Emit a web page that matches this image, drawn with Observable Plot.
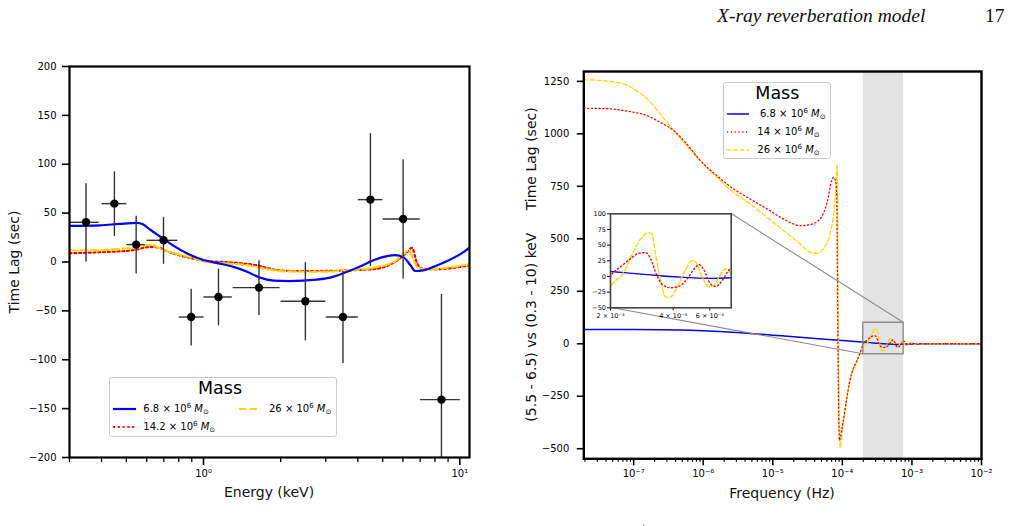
<!DOCTYPE html>
<html>
<head>
<meta charset="utf-8">
<script src="https://cdn.jsdelivr.net/npm/d3@7"></script>
<script src="https://cdn.jsdelivr.net/npm/@observablehq/plot@0.6"></script>
<style>
  body { margin: 0; background: #fff; }
  #page { position: relative; width: 1012px; height: 526px; overflow: hidden; font-family: "DejaVu Sans", sans-serif; color: #000; }
  #page > * { position: absolute; }
  .legend { border: 1px solid #cccccc; border-radius: 3px; background: rgba(255,255,255,0.8); box-sizing: border-box; }
  .ltitle { font-size: 17.5px; line-height: 20px; white-space: nowrap; }
  .ltext { font-size: 10px; line-height: 12px; white-space: nowrap; }
  .ltext sup { font-size: 7px; line-height: 0; vertical-align: 4px; }
  .ltext sub { font-size: 7px; line-height: 0; vertical-align: -2px; }
</style>
</head>
<body>
<div id="page"></div>
<script>
// ---------- Left panel: lag-energy spectrum ----------
const energyDomain = [0.3, 10.91];
const lagDomainLeft = [-200, 200];
const lagTicksLeft = [-200, -150, -100, -50, 0, 50, 100, 150, 200];
const energyMajor = [1, 10];
const energyMajorLabels = ["10⁰", "10¹"];
const energyMinor = [0.3, 0.4, 0.5, 0.6, 0.7, 0.8, 0.9, 2, 3, 4, 5, 6, 7, 8, 9];

// measured lags per energy bin
const binEnergy = [0.348, 0.449, 0.546, 0.698, 0.895, 1.144, 1.646, 2.497, 3.50, 4.48, 6.01, 8.48];
const binLow    = [0.30, 0.40, 0.50, 0.60, 0.80, 1.00, 1.30, 2.00, 3.00, 4.00, 5.00, 7.00];
const binHigh   = [0.39, 0.50, 0.59, 0.79, 1.00, 1.29, 1.98, 2.99, 4.00, 4.99, 6.98, 10.0];
const binLag    = [40.6, 59.7, 17.8, 22.2, -56.3, -35.8, -26.2, -40.2, -56.3, 63.8, 44.0, -140.8];
const binLagErr = [40, 33, 29.5, 24, 29, 29, 28, 40, 47, 68, 61, 108];

// model lag-energy curves for each black-hole mass
const blueEnergy = [0.3, 0.395, 0.47, 0.55, 0.58, 0.62, 0.66, 0.70, 0.76, 0.86, 1.0, 1.16, 1.31, 1.48, 1.66, 1.88, 2.15, 2.77, 3.22, 3.63, 4.1, 4.6, 5.2, 5.6, 6.05, 6.42, 6.7, 7.2, 7.9, 8.93, 10.05, 10.91];
const blueLag    = [37, 37.5, 39, 40, 38.5, 33, 28, 23.5, 17, 9, 2, -1.6, -5, -10, -16, -19, -19.5, -18, -15, -10, -4.4, 1.7, 6, 7, 4.5, -3.4, -9.2, -8.5, -5, 1, 8, 14.7];
const redEnergy  = [0.3, 0.395, 0.53, 0.62, 0.67, 0.72, 0.86, 1.03, 1.31, 1.62, 1.88, 2.2, 2.77, 3.74, 4.76, 5.7, 6.22, 6.5, 6.82, 7.1, 7.9, 10.91];
const redLag     = [9, 10, 12, 15.4, 14.7, 11, 5, 1, -0.6, -3.4, -7.8, -9.2, -9.2, -8.5, -6.8, 1.7, 10, 14.5, -1.6, -6.8, -7.5, -3.4];
const goldEnergy = [0.3, 0.395, 0.47, 0.55, 0.62, 0.68, 0.76, 0.89, 1.03, 1.25, 1.48, 1.72, 2.05, 2.77, 3.74, 4.76, 5.53, 5.96, 6.33, 6.6, 6.9, 7.47, 8.93, 10.91];
const goldLag    = [12, 12, 13.5, 15, 17.8, 13.7, 9.2, 5, 0, -1.7, -3.4, -6.8, -9.5, -10, -8.5, -5, 0, 7, 12, 1.7, -6.8, -7.8, -5.8, -2.4];

// ---------- Right panel: lag-frequency spectrum ----------
const freqDomain = [1.92e-8, 1e-2];
const lagDomainRight = [-548, 1297];
const lagTicksRight = [-500, -250, 0, 250, 500, 750, 1000, 1250];
const freqMajor = [1e-7, 1e-6, 1e-5, 1e-4, 1e-3, 1e-2];
const freqMajorLabels = ["10⁻⁷", "10⁻⁶", "10⁻⁵", "10⁻⁴", "10⁻³", "10⁻²"];

const blueFreq = [1.92e-8, 1e-7, 2.5e-7, 5e-7, 1e-6, 3e-6, 1e-5, 3e-5, 1e-4, 2e-4, 3e-4, 4.3e-4, 6.3e-4, 7.6e-4, 1e-3, 2e-3, 1e-2];
const blueFreqLag = [68, 68, 67, 65, 62, 54, 41, 29, 15, 8, 3, -1, -3, -2, -1, 0, 0];

const redFreq = [1.92e-8, 4.6e-8, 7.2e-8, 1e-7, 1.56e-7, 2.4e-7, 3.75e-7, 5.8e-7, 9.06e-7, 1.57e-6, 2.72e-6, 4.7e-6, 8.2e-6, 1.42e-5, 2.47e-5, 3.44e-5, 4.79e-5, 5.97e-5, 7.05e-5, 7.43e-5, 8.0e-5, 8.31e-5, 8.5e-5, 8.75e-5, 9.06e-5, 1.0e-4, 1.15e-4, 1.29e-4, 1.43e-4, 1.6e-4, 1.79e-4,
  2.0e-4, 2.23e-4, 2.49e-4, 2.74e-4, 2.95e-4, 3.12e-4, 3.29e-4, 3.53e-4, 3.88e-4, 4.25e-4, 4.67e-4, 5.13e-4, 5.32e-4, 5.63e-4, 6.05e-4, 6.4e-4, 6.9e-4, 7.4e-4, 7.6e-4,
  8.0e-4, 8.5e-4, 9.0e-4, 9.5e-4, 1.0e-3, 1.1e-3, 1.2e-3, 1.35e-3, 1.6e-3, 2e-3, 1e-2];
const redFreqLag = [1122, 1119, 1111, 1103, 1087, 1055, 1016, 952, 873, 801, 738, 690, 643, 595, 563, 568, 595, 667, 778, 793, 775, 700, 300, -200, -460, -390, -265, -170, -120, -85, -45,
  0, 15, 28, 37, 38, 28, 7, -12, -18, -16, -4, 15, 19, 10, -12, -16, -6, 10, 13,
  8, -4, -5, 2, 4, -1, -2, 1, 0, 0, 0];

const goldFreq = [1.92e-8, 4.6e-8, 7.2e-8, 1e-7, 1.56e-7, 2.4e-7, 3.75e-7, 5.8e-7, 9.06e-7, 1.57e-6, 2.72e-6, 4.7e-6, 8.2e-6, 1.42e-5, 2.46e-5, 3.43e-5, 4.28e-5, 5.32e-5, 6.64e-5, 7.4e-5, 8.09e-5, 8.45e-5, 8.7e-5, 8.95e-5, 9.27e-5, 1.03e-4, 1.15e-4, 1.29e-4, 1.43e-4, 1.6e-4, 1.79e-4,
  2.0e-4, 2.32e-4, 2.59e-4, 2.84e-4, 3.05e-4, 3.16e-4, 3.29e-4, 3.48e-4, 3.68e-4, 3.88e-4, 4.18e-4, 4.58e-4, 4.94e-4, 5.13e-4, 5.52e-4, 5.94e-4, 6.28e-4, 6.65e-4, 7.0e-4, 7.3e-4, 7.6e-4,
  8.0e-4, 8.5e-4, 9.0e-4, 9.5e-4, 1.0e-3, 1.1e-3, 1.2e-3, 1.35e-3, 1.6e-3, 2e-3, 1e-2];
const goldFreqLag = [1258, 1250, 1238, 1214, 1167, 1095, 1016, 944, 873, 793, 722, 667, 603, 540, 476, 436, 431, 452, 524, 603, 746, 854, 200, -300, -495, -381, -270, -175, -124, -88, -50,
  -16, 7, 41, 63, 70, 68, 36, -6, -33, -33, -17, 10, 25.5, 23, -1, -17, -14, -1, 11, 12, 1.6,
  -6, -7, 0, 5, 3, -3, 1, -1, 0, 0, 0];

// zoomed window shown in the inset
const zoomBand = [2e-4, 7.6e-4];
const zoomLag = [-50, 100];
const insetLagTicks = [-50, -25, 0, 25, 50, 75, 100];
const insetFreqTicks = [2e-4, 4e-4, 6e-4];
const insetFreqLabels = ["2 × 10⁻⁴", "4 × 10⁻⁴", "6 × 10⁻⁴"];

const massLabelsLeft = ["6.8", "14.2", "26"];
const massLabelsRight = ["6.8", "14", "26"];

// ---------- styling ----------
const FONT = "'DejaVu Sans', sans-serif";
const BLUE = "#0000ff", RED = "#ff0000", GOLD = "#ffd700";
const DASH_L = "7.4,3.2", DOT_L = "2,2.8";
const DASH_R = "4.4,2.2", DOT_R = "1.2,2.6";
const fmtInt = d3.format("d");

const zipXY = (xs, ys, kx, ky) => xs.map((v, i) => ({[kx]: v, [ky]: ys[i]}));
const bins = binEnergy.map((e, i) => ({e, lo: binLow[i], hi: binHigh[i], lag: binLag[i], err: binLagErr[i]}));
const blueE = zipXY(blueEnergy, blueLag, "e", "lag");
const redE = zipXY(redEnergy, redLag, "e", "lag");
const goldE = zipXY(goldEnergy, goldLag, "e", "lag");
const blueF = zipXY(blueFreq, blueFreqLag, "f", "lag");
const redF = zipXY(redFreq, redFreqLag, "f", "lag");
const goldF = zipXY(goldFreq, goldFreqLag, "f", "lag");
const insetTickRows = insetFreqTicks.map((f, i) => ({f, label: insetFreqLabels[i]}));

// log minor ticks (2..9 per decade) inside the frequency domain
const freqMinor = [];
for (let k = -8; k <= -3; k++) for (let m = 2; m <= 9; m++) {
  const v = m * Math.pow(10, k);
  if (v >= freqDomain[0] && v <= freqDomain[1]) freqMinor.push(v);
}

const page = document.getElementById("page");
function place(node, left, top) {
  node.style.position = "absolute";
  node.style.left = left + "px";
  node.style.top = top + "px";
  page.appendChild(node);
  return node;
}
const baseStyle = (size) => ({background: "transparent", fontFamily: FONT, fontSize: size, color: "#000", overflow: "visible"});

// ---------- left plot ----------
const leftPlot = Plot.plot({
  width: 490, height: 526,
  marginLeft: 69, marginRight: 21, marginTop: 66, marginBottom: 69,
  style: baseStyle("10px"),
  x: {type: "log", domain: energyDomain},
  y: {domain: lagDomainLeft},
  marks: [
    Plot.axisY(lagTicksLeft, {tickSize: 7, tickPadding: 6, strokeWidth: 1.6, tickFormat: fmtInt, label: null}),
    Plot.axisX(energyMajor, {tickSize: 8, tickPadding: 4, strokeWidth: 1.6, tickFormat: d => energyMajorLabels[energyMajor.indexOf(d)], label: null}),
    Plot.axisX(energyMinor, {tickSize: 5, strokeWidth: 1.3, tickFormat: () => "", label: null}),
    Plot.line(redE, {x: "e", y: "lag", stroke: RED, strokeWidth: 2.2, strokeDasharray: DOT_L, curve: "monotone-x", clip: true}),
    Plot.line(goldE, {x: "e", y: "lag", stroke: GOLD, strokeWidth: 2.2, strokeDasharray: DASH_L, curve: "monotone-x", clip: true}),
    Plot.line(blueE, {x: "e", y: "lag", stroke: BLUE, strokeWidth: 2.2, curve: "monotone-x", clip: true}),
    Plot.link(bins, {x1: "lo", x2: "hi", y1: "lag", y2: "lag", stroke: "#333", strokeWidth: 1.4, clip: true}),
    Plot.link(bins, {x1: "e", x2: "e", y1: d => d.lag - d.err, y2: d => d.lag + d.err, stroke: "#333", strokeWidth: 1.4, clip: true}),
    Plot.dot(bins, {x: "e", y: "lag", r: 4.2, fill: "#000", stroke: "none"}),
    Plot.frame({stroke: "#000", strokeWidth: 2.2})
  ]
});
place(leftPlot, 0, 0);

// ---------- right plot ----------
const rightPlot = Plot.plot({
  width: 522, height: 526,
  marginLeft: 93.3, marginRight: 31, marginTop: 71, marginBottom: 67.7,
  style: baseStyle("10px"),
  x: {type: "log", domain: freqDomain},
  y: {domain: lagDomainRight},
  marks: [
    Plot.rect([zoomBand], {x1: d => d[0], x2: d => d[1], fill: "#e3e3e3"}),
    Plot.axisY(lagTicksRight, {tickSize: 6.5, tickPadding: 8, strokeWidth: 1.6, tickFormat: fmtInt, label: null}),
    Plot.axisX(freqMajor, {tickSize: 7, tickPadding: 4, strokeWidth: 1.6, tickFormat: d => freqMajorLabels[freqMajor.indexOf(d)], label: null}),
    Plot.axisX(freqMinor, {tickSize: 3.5, strokeWidth: 1.2, tickFormat: () => "", label: null}),
    Plot.line(blueF, {x: "f", y: "lag", stroke: BLUE, strokeWidth: 1.5, curve: "monotone-x", clip: true}),
    Plot.line(goldF, {x: "f", y: "lag", stroke: GOLD, strokeWidth: 1.3, strokeDasharray: DASH_R, curve: "monotone-x", clip: true}),
    Plot.line(redF, {x: "f", y: "lag", stroke: RED, strokeWidth: 1.3, strokeDasharray: DOT_R, curve: "monotone-x", clip: true}),
    Plot.rect([{x1: zoomBand[0], x2: zoomBand[1], y1: zoomLag[0], y2: zoomLag[1]}], {x1: "x1", x2: "x2", y1: "y1", y2: "y2", fill: "none", stroke: "#8a8a8a", strokeWidth: 1.4}),
    Plot.frame({stroke: "#000", strokeWidth: 2.4})
  ]
});
place(rightPlot, 490, 0);

// ---------- inset ----------
const INSET_LEFT = 580, INSET_TOP = 200;
const insetPlot = Plot.plot({
  width: 160, height: 125,
  marginLeft: 30, marginRight: 9.3, marginTop: 13.3, marginBottom: 17.7,
  style: baseStyle("6.5px"),
  x: {type: "log", domain: zoomBand},
  y: {domain: zoomLag},
  marks: [
    Plot.frame({fill: "#fff"}),
    Plot.axisY(insetLagTicks, {tickSize: 3, tickPadding: 1.5, strokeWidth: 1, tickFormat: fmtInt, label: null}),
    Plot.axisX(insetFreqTicks, {tickSize: 3, strokeWidth: 1, tickFormat: () => "", label: null}),
    Plot.text(insetTickRows, {x: "f", text: "label", frameAnchor: "bottom", lineAnchor: "top", dy: 5.5, fontSize: 6.5, fill: "#000"}),
    Plot.line(blueF, {x: "f", y: "lag", stroke: BLUE, strokeWidth: 1.4, curve: "monotone-x", clip: true}),
    Plot.line(goldF, {x: "f", y: "lag", stroke: GOLD, strokeWidth: 1.4, strokeDasharray: DASH_R, curve: "monotone-x", clip: true}),
    Plot.line(redF, {x: "f", y: "lag", stroke: RED, strokeWidth: 1.4, strokeDasharray: DOT_R, curve: "monotone-x", clip: true}),
    Plot.frame({stroke: "#444", strokeWidth: 1.6})
  ]
});

// ---------- overlay: labels, header, connector lines ----------
const overlay = d3.create("svg").attr("width", 1012).attr("height", 526)
  .style("position", "absolute").style("left", "0px").style("top", "0px")
  .style("font-family", FONT).style("overflow", "hidden");

const toPx = (plot, name) => {
  const s = plot.scale(name);
  return (s.type === "log" ? d3.scaleLog() : d3.scaleLinear()).domain(s.domain).range(s.range);
};
const rx = toPx(rightPlot, "x"), ry = toPx(rightPlot, "y");
const ix = toPx(insetPlot, "x"), iy = toPx(insetPlot, "y");
const connectors = [
  [[490 + rx(zoomBand[1]), ry(zoomLag[1])], [INSET_LEFT + ix(zoomBand[1]), INSET_TOP + iy(zoomLag[1])]],
  [[490 + rx(zoomBand[0]), ry(zoomLag[0])], [INSET_LEFT + ix(zoomBand[0]), INSET_TOP + iy(zoomLag[0])]]
];
overlay.selectAll("line.conn").data(connectors).join("line")
  .attr("x1", d => d[0][0]).attr("y1", d => d[0][1])
  .attr("x2", d => d[1][0]).attr("y2", d => d[1][1])
  .attr("stroke", "#8a8a8a").attr("stroke-width", 1.1);

// axis titles
overlay.append("text").attr("transform", "translate(19,262) rotate(-90)")
  .attr("text-anchor", "middle").attr("font-size", 14).attr("fill", "#111").text("Time Lag (sec)");
overlay.append("text").attr("x", 269).attr("y", 497)
  .attr("text-anchor", "middle").attr("font-size", 14).attr("fill", "#111").text("Energy (keV)");
overlay.append("text").attr("transform", "translate(536,264.5) rotate(-90)")
  .attr("text-anchor", "middle").attr("font-size", 14).attr("fill", "#111")
  .text("(5.5 - 6.5) vs (0.3 - 10) keV\u00a0\u00a0\u00a0\u00a0 Time Lag (sec)");
overlay.append("text").attr("x", 782).attr("y", 498)
  .attr("text-anchor", "middle").attr("font-size", 14).attr("fill", "#111").text("Frequency (Hz)");

// running page header
overlay.append("text").attr("x", 717).attr("y", 22)
  .attr("font-family", "'Liberation Serif', serif").attr("font-style", "italic")
  .attr("font-size", 19.5).attr("fill", "#111").text("X-ray reverberation model");
overlay.append("text").attr("x", 985).attr("y", 22)
  .attr("font-family", "'Liberation Serif', serif")
  .attr("font-size", 19.5).attr("fill", "#111").text("17");
overlay.append("text").attr("x", 640.5).attr("y", 531)
  .attr("font-family", "'Liberation Serif', serif")
  .attr("font-size", 9).attr("fill", "#111").text("4");

page.appendChild(overlay.node());
place(insetPlot, INSET_LEFT, INSET_TOP);

// ---------- legends ----------
const massHTML = (m) => `${m} × 10<sup>6</sup> <i>M</i><sub>⊙</sub>`;
function sample(left, cy, w, stroke, width, dash) {
  const s = d3.create("svg").attr("width", w).attr("height", 8);
  s.append("line").attr("x1", 0).attr("x2", w).attr("y1", 4).attr("y2", 4)
    .attr("stroke", stroke).attr("stroke-width", width)
    .attr("stroke-dasharray", dash);
  place(s.node(), left, cy - 4);
}
function text(cls, html, left, cy, lh) {
  const d = document.createElement("div");
  d.className = cls;
  d.innerHTML = html;
  place(d, left, cy - lh / 2);
  return d;
}
function box(left, top, w, h) {
  const d = document.createElement("div");
  d.className = "legend";
  d.style.width = w + "px";
  d.style.height = h + "px";
  place(d, left, top);
}

// left legend (two columns)
box(109, 377, 228, 60);
text("ltitle", "Mass", 220 - 22, 388, 20);
sample(113, 409.3, 23, BLUE, 2.2, null);
text("ltext", massHTML(massLabelsLeft[0]), 143.3, 409.3, 12);
sample(113, 426.7, 23, RED, 2.2, DOT_L);
text("ltext", massHTML(massLabelsLeft[1]), 143.3, 426.7, 12);
sample(239, 409.3, 21, GOLD, 2.2, DASH_L);
text("ltext", massHTML(massLabelsLeft[2]), 269, 409.3, 12);

// right legend (single column)
box(722.7, 81.7, 108.5, 77.5);
text("ltitle", "Mass", 777.3 - 22, 93.3, 20);
sample(726.7, 114.3, 22, BLUE, 1.5, null);
text("ltext", massHTML(massLabelsRight[0]), 760, 114.3, 12);
sample(726.7, 131.7, 22, RED, 1.3, DOT_R);
text("ltext", massHTML(massLabelsRight[1]), 757.3, 131.7, 12);
sample(726.7, 150, 22, GOLD, 1.3, DASH_R);
text("ltext", massHTML(massLabelsRight[2]), 757.3, 150, 12);
</script>
</body>
</html>
